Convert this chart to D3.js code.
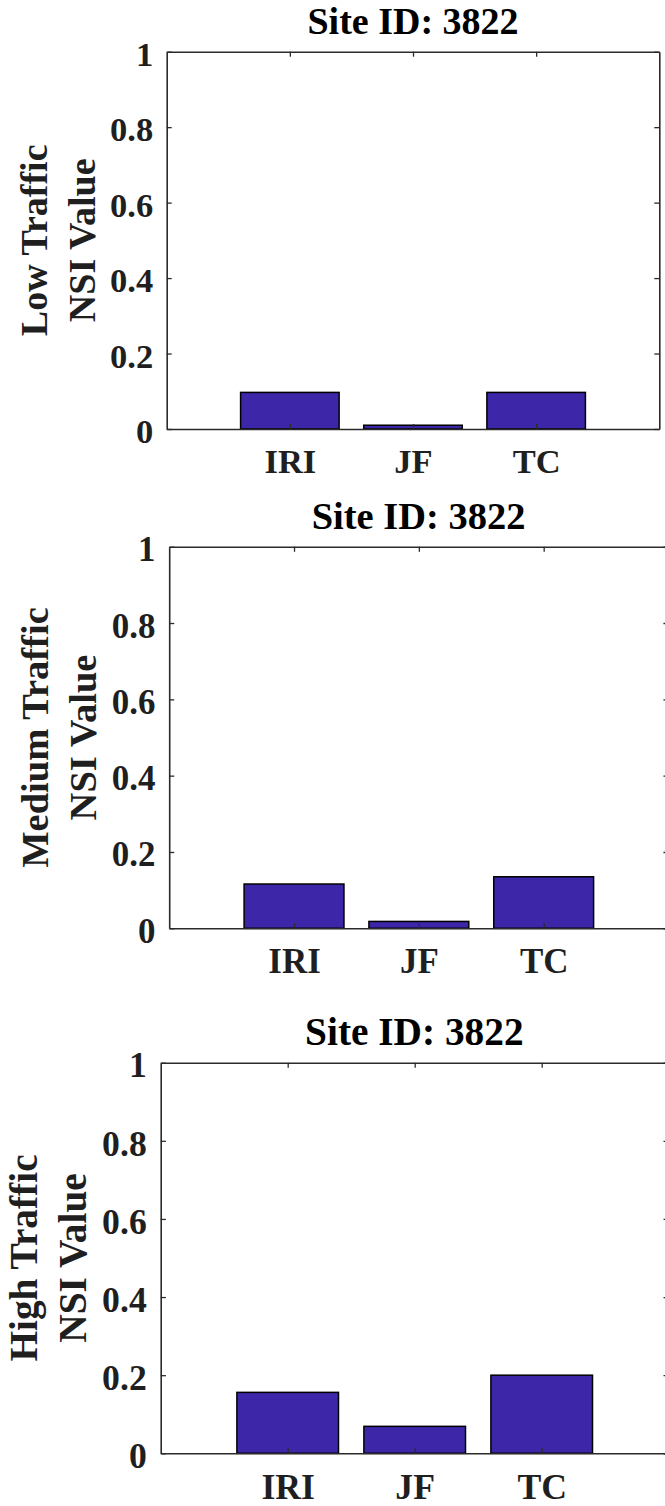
<!DOCTYPE html>
<html>
<head>
<meta charset="utf-8">
<script src="https://cdn.jsdelivr.net/npm/d3@7"></script>
<style>
  body { margin: 0; background: #ffffff; }
  svg { display: block; }
  text { font-family: "Liberation Serif", "Times New Roman", serif; font-weight: bold; }
</style>
</head>
<body>
<svg id="chart" width="665" height="1506"></svg>
<script>
// ---- data ----
const categories = ["IRI", "JF", "TC"];
const lowTraffic = [0.097, 0.010, 0.097];
const mediumTraffic = [0.116, 0.018, 0.135];
const highTraffic = [0.156, 0.069, 0.200];
const yTicks = [0, 0.2, 0.4, 0.6, 0.8, 1];
const yTickLabels = ["0", "0.2", "0.4", "0.6", "0.8", "1"];
const siteTitle = "Site ID: 3822";
const lowLabel = ["Low Traffic", "NSI Value"];
const mediumLabel = ["Medium Traffic", "NSI Value"];
const highLabel = ["High Traffic", "NSI Value"];

// ---- layout of the three stacked axes (pixel boxes + text scale) ----
const panels = [
  { values: lowTraffic,    label: lowLabel,    left: 166.7, right: 659.3, top: 51.7,   bottom: 429.0,  k: 1.000 },
  { values: mediumTraffic, label: mediumLabel, left: 169.2, right: 668.5, top: 546.7,  bottom: 928.3,  k: 1.013 },
  { values: highTraffic,   label: highLabel,   left: 160.7, right: 668.7, top: 1062.7, bottom: 1453.3, k: 1.035 }
];

const barFill = "#3e26a8";
const axisColor = "#2b2b2b";
const textColor = "#1f1f1f";

const svg = d3.select("#chart");

panels.forEach(p => {
  const k = p.k;
  const tickFont = 34.5 * k;
  const labelFont = 38 * k;
  const tickLen = 5 * k;

  const x = d3.scaleLinear().domain([0, 4]).range([p.left, p.right]);
  const y = d3.scaleLinear().domain([0, 1]).range([p.bottom, p.top]);

  const g = svg.append("g");

  // bars, 0.8 category units wide
  g.selectAll("rect.bar")
    .data(p.values)
    .join("rect")
    .attr("class", "bar")
    .attr("x", (d, i) => x(i + 1 - 0.4))
    .attr("width", (d, i) => x(i + 1 + 0.4) - x(i + 1 - 0.4))
    .attr("y", d => y(d))
    .attr("height", d => y(0) - y(d))
    .attr("fill", barFill)
    .attr("stroke", "#000")
    .attr("stroke-width", 1.5);

  // boxed axes on all four sides, ticks pointing inward
  const xb = d3.axisBottom(x).tickValues([1, 2, 3]).tickFormat((d) => categories[d - 1])
    .tickSizeInner(-tickLen).tickSizeOuter(0);
  const xt = d3.axisTop(x).tickValues([1, 2, 3]).tickFormat("")
    .tickSizeInner(-tickLen).tickSizeOuter(0);
  const yl = d3.axisLeft(y).tickValues(yTicks).tickFormat((d, i) => yTickLabels[i])
    .tickSizeInner(-tickLen).tickSizeOuter(0);
  const yr = d3.axisRight(y).tickValues(yTicks).tickFormat("")
    .tickSizeInner(-tickLen).tickSizeOuter(0);

  const gxb = g.append("g").attr("transform", `translate(0,${p.bottom})`).call(xb);
  const gxt = g.append("g").attr("transform", `translate(0,${p.top})`).call(xt);
  const gyl = g.append("g").attr("transform", `translate(${p.left},0)`).call(yl);
  const gyr = g.append("g").attr("transform", `translate(${p.right},0)`).call(yr);

  [gxb, gxt, gyl, gyr].forEach(a => {
    a.select(".domain").attr("stroke", axisColor).attr("stroke-width", 1.6);
    a.selectAll(".tick line").attr("stroke", axisColor).attr("stroke-width", 1.3);
    a.attr("font-family", null).attr("font-size", null);
  });

  gxb.selectAll(".tick text")
    .attr("y", 44 * k).attr("dy", 0)
    .attr("fill", textColor)
    .style("font-size", tickFont + "px");

  gyl.selectAll(".tick text")
    .attr("x", -13.5 * k).attr("dy", "0.4em")
    .attr("fill", textColor)
    .style("font-size", tickFont + "px");

  // title
  g.append("text")
    .attr("x", (p.left + Math.min(p.right, 668)) / 2)
    .attr("y", p.top - 17.3 * k)
    .attr("text-anchor", "middle")
    .attr("fill", "#000")
    .style("font-size", labelFont + "px")
    .text(siteTitle);

  // two-line rotated y label
  const cy = (p.top + p.bottom) / 2;
  const baselines = [p.left - 120 * k, p.left - 72 * k];
  p.label.forEach((line, i) => {
    g.append("text")
      .attr("transform", `translate(${baselines[i]},${cy}) rotate(-90)`)
      .attr("text-anchor", "middle")
      .attr("fill", textColor)
      .style("font-size", labelFont + "px")
      .text(line);
  });
});
</script>
</body>
</html>
